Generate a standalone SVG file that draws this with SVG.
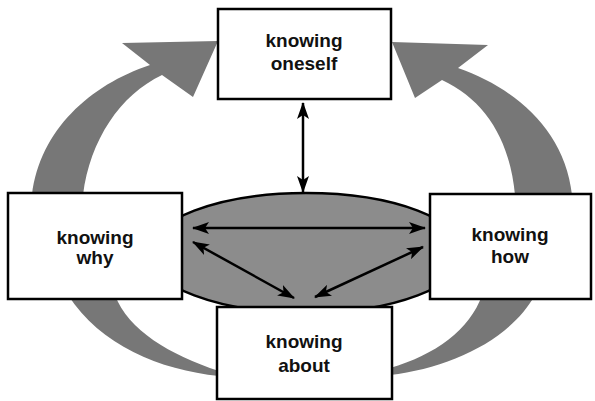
<svg xmlns="http://www.w3.org/2000/svg" width="595" height="401" viewBox="0 0 595 401">
<defs>
<marker id="ah" markerUnits="userSpaceOnUse" markerWidth="18" markerHeight="12" refX="16" refY="6" orient="auto-start-reverse">
<path d="M0,0 L17,6 L0,12 L4,6 Z" fill="#000"/>
</marker>
</defs>
<style>
.box{fill:#fff;stroke:#000;stroke-width:2.5}
.big{fill:#777}
.lbl{font-family:"Liberation Sans",Arial,sans-serif;font-weight:bold;font-size:19px;text-anchor:middle;fill:#111}
.con{stroke:#000;stroke-width:2.5;fill:none;marker-start:url(#ah);marker-end:url(#ah)}
</style>
<g id="cycle">
<path class="big" d="M32 195 C40 130 90 85 150 65 L122 43 L218 41 L193 97 L162 75 C120 95 90 140 83 195 Z"/>
<path class="big" d="M572 195 C565 130 515 88 458 68 L488 45 L392 42 L415 98 L442 80 C485 100 510 140 515 195 Z"/>
<path class="big" d="M68 295 C100 345 160 370 219 376 L219 371 C170 355 128 330 115 295 Z"/>
<path class="big" d="M535 295 C510 340 450 368 390 375 L390 368 C435 355 470 330 482 295 Z"/>
</g>
<g id="core">
<ellipse cx="306" cy="253" rx="158" ry="60" fill="#8c8c8c" stroke="#000" stroke-width="2.5"/>
</g>
<g id="connectors">
<line class="con" x1="303" y1="103" x2="303" y2="192"/>
<line class="con" x1="193" y1="228" x2="425" y2="228"/>
<line class="con" x1="193" y1="242" x2="294" y2="298"/>
<line class="con" x1="315" y1="297" x2="423" y2="247"/>
</g>
<g id="oneself">
<rect class="box" x="218" y="9" width="173" height="90"/>
<text class="lbl" x="304" y="47">knowing</text>
<text class="lbl" x="304" y="70">oneself</text>
</g>
<g id="why">
<rect class="box" x="8" y="193" width="174" height="106"/>
<text class="lbl" x="95" y="244">knowing</text>
<text class="lbl" x="95" y="264">why</text>
</g>
<g id="how">
<rect class="box" x="430" y="194" width="161" height="105"/>
<text class="lbl" x="510" y="241">knowing</text>
<text class="lbl" x="510" y="263">how</text>
</g>
<g id="about">
<rect class="box" x="217" y="307" width="175" height="92"/>
<text class="lbl" x="304" y="348">knowing</text>
<text class="lbl" x="304" y="372">about</text>
</g>
</svg>
